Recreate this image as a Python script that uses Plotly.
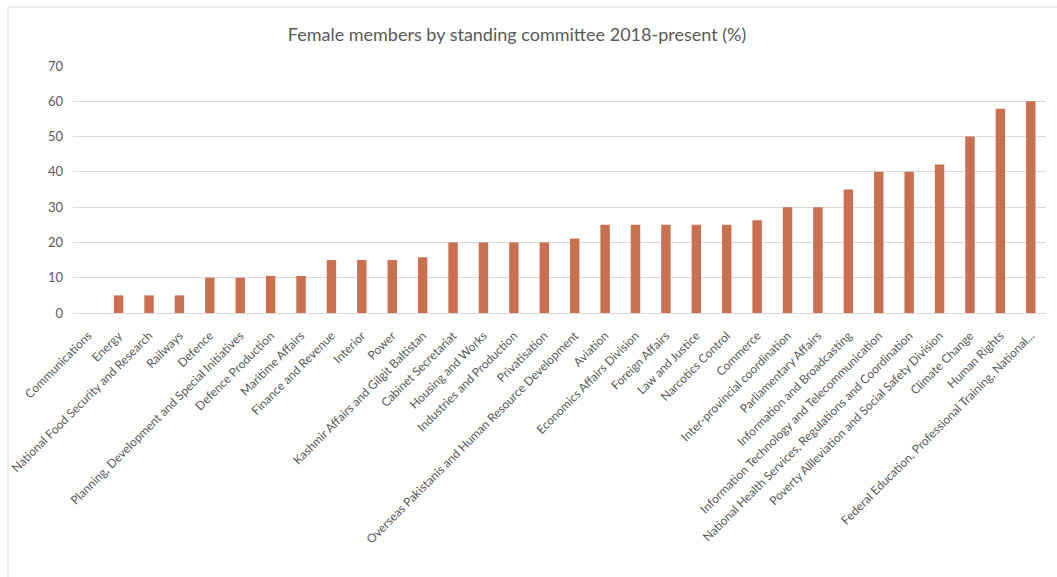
import plotly.graph_objects as go

# Standing committees, ordered by share of female members
committees = [
    "Communications", "Energy", "National Food Security and Research", "Railways",
    "Defence", "Planning, Development and Special Initiatives", "Defence Production",
    "Maritime Affairs", "Finance and Revenue", "Interior", "Power",
    "Kashmir Affairs and Gilgit Baltistan", "Cabinet Secretariat", "Housing and Works",
    "Industries and Production", "Privatisation",
    "Overseas Pakistanis and Human Resource Development", "Aviation",
    "Economics Affairs Division", "Foreign Affairs", "Law and Justice",
    "Narcotics Control", "Commerce", "Inter-provincial coordination",
    "Parliamentary Affairs", "Information and Broadcasting",
    "Information Technology and Telecommunication",
    "National Health Services, Regulations and Coordination",
    "Poverty Allleviation and Social Safety Division", "Climate Change",
    "Human Rights", "Federal Education, Professional Training, National...",
]
female_pct = [
    0, 5, 5, 5, 10, 10, 10.5, 10.5, 15, 15, 15, 15.8, 20, 20, 20, 20,
    21.1, 25, 25, 25, 25, 25, 26.3, 30, 30, 35, 40, 40, 42.1, 50, 57.9, 60,
]
y_ticks = [0, 10, 20, 30, 40, 50, 60, 70]

FONT = "Lato, 'Open Sans', sans-serif"
TEXT_GREY = "#595959"
LINE_GREY = "#D9D9D9"

fig = go.Figure(
    go.Bar(
        x=committees,
        y=female_pct,
        marker=dict(color="#C8704F", line=dict(width=0)),
        hoverinfo="x+y",
    )
)

fig.update_layout(
    width=1057,
    height=577,
    margin=dict(l=73, r=11, t=66, b=264, autoexpand=False),
    paper_bgcolor="white",
    plot_bgcolor="white",
    bargap=0.69,
    showlegend=False,
    font=dict(family=FONT, color=TEXT_GREY, size=12),
    title=dict(
        text="Female members by standing committee 2018-present (%)",
        x=517 / 1057,
        xanchor="center",
        xref="container",
        y=1 - 35 / 577,
        yanchor="middle",
        yref="container",
        font=dict(family=FONT, size=18, color=TEXT_GREY),
    ),
    xaxis=dict(
        tickangle=-45,
        showgrid=False,
        showline=True,
        linecolor=LINE_GREY,
        linewidth=1,
        ticks="",
        ticklabelstandoff=10,
        tickfont=dict(size=12, color=TEXT_GREY),
        automargin=False,
    ),
    yaxis=dict(
        range=[0, 70],
        tickvals=y_ticks,
        showgrid=True,
        gridcolor=LINE_GREY,
        gridwidth=1,
        zeroline=False,
        showline=False,
        ticks="",
        ticklabelstandoff=9,
        tickfont=dict(size=13, color=TEXT_GREY),
        automargin=False,
        fixedrange=True,
    ),
)

# Chart-area frame along the left and top edges (plot area spans 973 x 247 px)
frame_x = -65 / 973
frame_y = 1 + 59 / 247
fig.add_shape(type="line", xref="paper", yref="paper",
              x0=frame_x, x1=frame_x, y0=-3, y1=frame_y,
              line=dict(color=LINE_GREY, width=1))
fig.add_shape(type="line", xref="paper", yref="paper",
              x0=frame_x, x1=1.2, y0=frame_y, y1=frame_y,
              line=dict(color=LINE_GREY, width=1))

fig.write_html("out.html")
